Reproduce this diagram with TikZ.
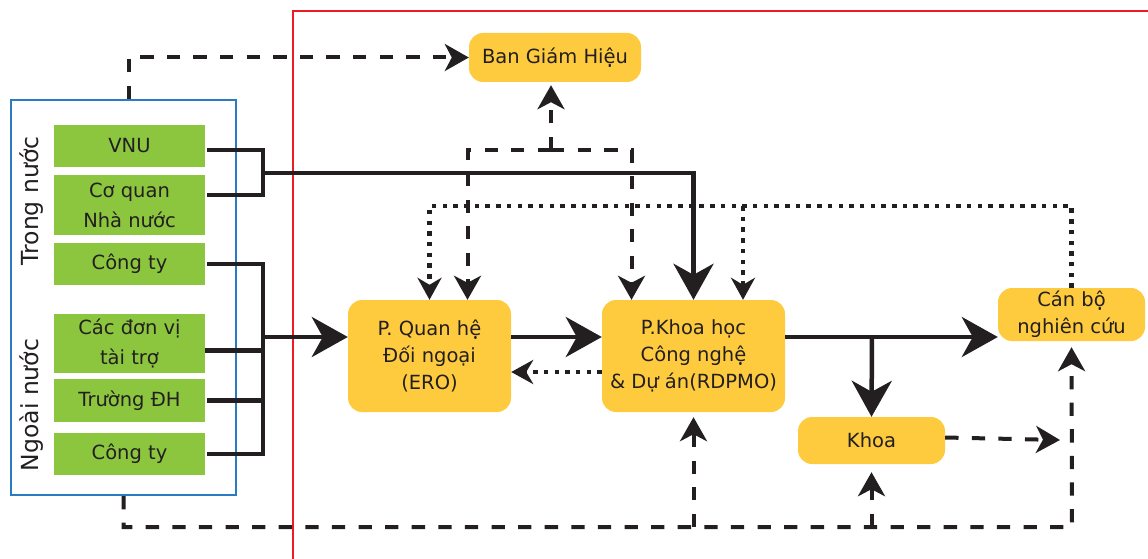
\documentclass[tikz,border=0pt]{standalone}
\usepackage{fontspec}
\setmainfont{DejaVu Sans}
\usetikzlibrary{arrows.meta, positioning}
\definecolor{unityellow}{HTML}{FFCB3E}
\definecolor{srcgreen}{HTML}{8CC63F}
\definecolor{boxblue}{HTML}{2A7BC1}
\definecolor{framered}{HTML}{ED1C24}
\definecolor{inkdark}{HTML}{231F20}

\begin{document}
\begin{tikzpicture}[
      x=1pt, y=-1pt,
      unit/.style={fill=unityellow, rounded corners=14pt, inner sep=2pt, align=center, text=inkdark, font=\fontsize{19.5}{27}\selectfont},
      source/.style={fill=srcgreen, minimum width=151pt, inner sep=2pt, align=center, text=inkdark, font=\fontsize{19.5}{30}\selectfont},
      grouplabel/.style={rotate=90, text=inkdark, font=\fontsize{23.5}{28}\selectfont},
      link/.style={line width=4.5pt, draw=inkdark},
      flow/.style={link, -{Stealth[length=36pt, width=40pt, inset=11pt]}},
      report/.style={line width=4pt, draw=inkdark, dash pattern=on 13.3pt off 13.3pt, -{Stealth[length=24pt, width=27pt, inset=7pt]}},
      feedback/.style={line width=4.5pt, draw=inkdark, dash pattern=on 4.5pt off 6.2pt, -{Stealth[length=22pt, width=24pt, inset=7pt]}}
  ]
    \useasboundingbox (0,0) rectangle (1148,559);

    % frame of the school
    \draw[framered, line width=2pt] (293,559) |- (1148,11);

    % partners
    \node[draw=boxblue, line width=2pt, minimum width=225pt, minimum height=395pt] (partners) at (123.5,297.5) {};
    \node[grouplabel] (trong) at (32,201) {Trong nước};
    \node[grouplabel] (ngoai) at (32,405) {Ngoài nước};
    \node[source, minimum height=42pt] (vnu) at (129.5,146) {VNU};
    \node[source, minimum height=60pt] (coquan) at (129.5,205) {Cơ quan\\Nhà nước};
    \node[source, minimum height=42pt] (congtyA) at (129.5,264) {Công ty};
    \node[source, minimum height=59pt] (donvi) at (129.5,343.5) {Các đơn vị\\tài trợ};
    \node[source, minimum height=43pt] (truong) at (129.5,400.5) {Trường ĐH};
    \node[source, minimum height=42pt] (congtyB) at (129.5,454) {Công ty};

    % units
    \node[unit, minimum width=172pt, minimum height=49pt] (bgh) at (555,57.5) {Ban Giám Hiệu};
    \node[unit, minimum width=163pt, minimum height=112pt] (ero) at (429.5,356) {P. Quan hệ\\Đối ngoại\\(ERO)};
    \node[unit, minimum width=183pt, minimum height=112pt] (rdpmo) at (693.5,356) {P.Khoa học\\Công nghệ\\\& Dự án(RDPMO)};
    \node[unit, minimum width=147pt, minimum height=53pt] (canbo) at (1071.5,314.5) {Cán bộ\\nghiên cứu};
    \node[unit, minimum width=147pt, minimum height=47pt] (khoa) at (871.5,440.5) {Khoa};

    % junctions
    \coordinate (jtop) at (263,173);
    \coordinate (jbot) at (263,337);
    \coordinate (jright) at (872,337);
    \coordinate (jbgh) at (551,150);
    \coordinate (jdot) at (429.5,206);
    \coordinate (jdot2) at (743,206);
    \coordinate (jlow) at (1072,527);
    \coordinate (jmid) at (693.5,527);
    \coordinate (jkhoa) at (871.5,527);
    \coordinate (kend) at (1060,440);

    % solid flows
    \draw[link] ([xshift=2pt, yshift=-4pt]vnu.east) -| (jtop);
    \draw[link] ([xshift=2pt, yshift=10pt]coquan.east) -| (jtop);
    \draw[flow] (jtop) -| (rdpmo.north);
    \draw[link] ([xshift=2pt]congtyA.east) -| (jbot);
    \draw[link] ([yshift=-7pt]donvi.east) -| (jbot);
    \draw[link] ([xshift=2pt]truong.east) -| (jbot);
    \draw[link] ([xshift=2pt]congtyB.east) -| (jbot);
    \draw[flow] (jbot) -- (jbot -| ero.west);
    \draw[flow] ([yshift=19pt]ero.east) -- ([yshift=19pt]rdpmo.west);
    \draw[flow] ([yshift=19pt]rdpmo.east) -- (jright -| canbo.west);
    \draw[flow] (jright) -- (khoa.north);

    % reports
    \draw[report] ([xshift=5pt]partners.north) |- (bgh.west);
    \draw[report, shorten >=3pt] (jbgh) -- (jbgh |- bgh.south);
    \draw[report] (jbgh) -| ([xshift=38pt]ero.north);
    \draw[report] (jbgh) -| ([xshift=-62pt]rdpmo.north);
    \draw[report, shorten >=6pt] (partners.south) |- (jlow) -- (canbo.south);
    \draw[report, shorten >=5pt] (jmid) -- (rdpmo.south);
    \draw[report, shorten >=8pt] (jkhoa) -- (khoa.south);
    \draw[report] ([yshift=3pt]khoa.east) -- (kend);

    % feedback
    \draw[feedback] (canbo.north) |- (jdot) -- (ero.north);
    \draw[feedback] (jdot2) -- (jdot2 |- rdpmo.north);
    \draw[feedback] ([yshift=-16pt]rdpmo.west) -- ([yshift=-16pt]ero.east);
\end{tikzpicture}
\end{document}
